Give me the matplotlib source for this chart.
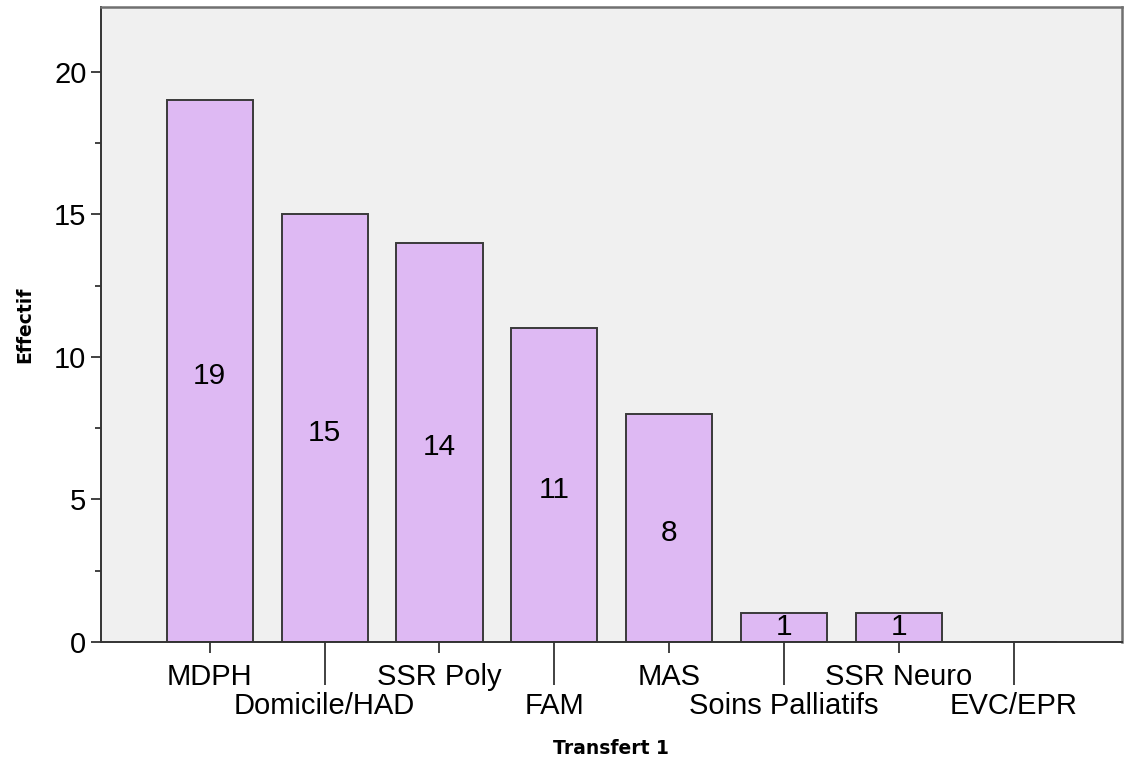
import matplotlib
matplotlib.use("Agg")
import matplotlib.pyplot as plt
from matplotlib.ticker import MultipleLocator

categories = ["MDPH", "Domicile/HAD", "SSR Poly", "FAM", "MAS",
              "Soins Palliatifs", "SSR Neuro", "EVC/EPR"]
values = [19, 15, 14, 11, 8, 1, 1, 0]
y_ticks = [0, 5, 10, 15, 20]

plt.rcParams['font.family'] = ['Liberation Sans', 'DejaVu Sans']

fig = plt.figure(figsize=(11.25, 7.61), dpi=100)
ax = fig.add_axes([101/1125, 1-642/761, (1122-101)/1125, (642-7)/761])
ax.set_facecolor('#F0F0F0')

x = list(range(len(categories)))
bars = ax.bar(x, values, width=0.75, color='#DEB9F3', edgecolor='#3a3a3a', linewidth=1.4, zorder=2)
for rect, v in zip(bars, values):
    if not v:
        continue
    dy = -5 if v > 2 else 1
    ax.annotate(str(v), (rect.get_x() + rect.get_width() / 2, v / 2),
                xytext=(0, dy), textcoords='offset pixels',
                ha='center', va='center', fontsize=21.5, color='black', zorder=3)

ax.set_xlim(-0.946, 7.94)
ax.set_ylim(0, 22.28)

ax.set_yticks(y_ticks)
ax.set_yticklabels([str(t) for t in y_ticks], fontsize=21)
ax.yaxis.set_minor_locator(MultipleLocator(2.5))
ax.tick_params(axis='y', which='major', length=7.5, width=1.3, pad=3, color='#333333')
ax.tick_params(axis='y', which='minor', length=4.5, width=1.3, color='#333333')

even = x[0::2]
odd = x[1::2]
ax.set_xticks(even)
ax.set_xticklabels([categories[i] for i in even], fontsize=21)
ax.set_xticks(odd, minor=True)
ax.set_xticklabels([categories[i] for i in odd], minor=True, fontsize=21)
ax.tick_params(axis='x', which='major', length=8, width=1.3, pad=7, color='#333333')
ax.tick_params(axis='x', which='minor', length=31, width=1.3, pad=5, color='#333333')

for side in ['left', 'bottom']:
    ax.spines[side].set_color('#333333')
    ax.spines[side].set_linewidth(1.4)
for side in ['top', 'right']:
    ax.spines[side].set_color('#707070')
    ax.spines[side].set_linewidth(1.8)

fig.text(611/1125, 1-748/761, "Transfert 1", ha='center', va='center',
         fontsize=13.5, fontweight='bold', family='DejaVu Sans')
fig.text(25/1125, 1-325/761, "Effectif", ha='center', va='center', rotation=90,
         fontsize=13.5, fontweight='bold', family='DejaVu Sans')

fig.savefig("out.png", dpi=100)
